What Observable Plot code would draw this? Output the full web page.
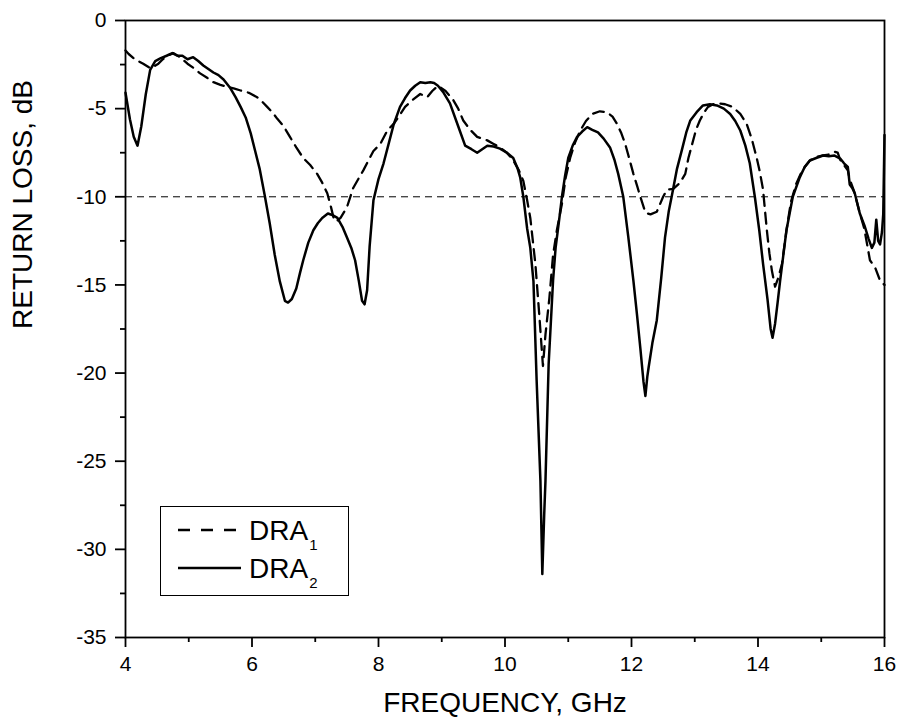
<!DOCTYPE html>
<html><head><meta charset="utf-8">
<script src="https://cdn.jsdelivr.net/npm/d3@7"></script>
<script src="https://cdn.jsdelivr.net/npm/@observablehq/plot@0.6"></script>
<style>
body{margin:0;background:#fff;font-family:"Liberation Sans",Arial,sans-serif;}
#wrap{position:relative;width:901px;height:727px;}
#legend{position:absolute;left:160px;top:506px;width:189px;height:90px;box-sizing:border-box;border:1.4px solid #000;background:#fff;}
</style>
</head><body>
<div id="wrap"><div id="legend"></div></div>
<script>
// ---- data ----
const seriesNames = ["DRA1", "DRA2"];
const xMajorTicks = [4, 6, 8, 10, 12, 14, 16];
const xMinorTicks = [5, 7, 9, 11, 13, 15];
const yMajorTicks = [-35, -30, -25, -20, -15, -10, -5, 0];
const yMinorTicks = [-32.5, -27.5, -22.5, -17.5, -12.5, -7.5, -2.5];
const refLevel = [-10];

const freq1 = [4.0,4.05,4.15,4.28,4.39,4.45,4.52,4.59,4.66,4.76,4.87,4.98,5.08,5.18,5.29,5.39,5.5,5.6,5.71,5.82,5.95,6.08,6.16,6.24,6.32,6.4,6.5,6.6,6.7,6.81,6.92,7.03,7.11,7.19,7.25,7.29,7.33,7.4,7.5,7.6,7.76,7.92,8.03,8.14,8.24,8.33,8.42,8.54,8.66,8.77,8.85,8.94,9.06,9.18,9.26,9.34,9.45,9.56,9.72,9.82,9.92,10.03,10.13,10.22,10.29,10.35,10.4,10.44,10.48,10.54,10.6,10.64,10.7,10.76,10.82,10.9,10.96,11.03,11.11,11.19,11.28,11.38,11.5,11.61,11.7,11.77,11.84,11.9,11.97,12.03,12.09,12.14,12.22,12.3,12.4,12.5,12.56,12.66,12.74,12.8,12.85,12.9,12.96,13.02,13.08,13.15,13.21,13.29,13.37,13.48,13.6,13.72,13.82,13.9,13.98,14.03,14.08,14.14,14.18,14.22,14.27,14.32,14.38,14.45,14.52,14.6,14.7,14.82,14.92,15.03,15.12,15.21,15.26,15.3,15.36,15.42,15.45,15.52,15.6,15.68,15.77,15.85,15.93,16.0];
const loss1 = [-1.7,-1.9,-2.2,-2.45,-2.7,-2.6,-2.45,-2.2,-2.0,-1.85,-2.1,-2.45,-2.7,-3.0,-3.25,-3.5,-3.65,-3.75,-3.85,-3.97,-4.1,-4.35,-4.6,-4.9,-5.2,-5.58,-6.0,-6.6,-7.2,-7.8,-8.2,-8.7,-9.2,-9.8,-10.6,-11.2,-11.4,-11.2,-10.6,-9.5,-8.5,-7.4,-7.0,-6.24,-5.86,-5.4,-4.9,-4.5,-4.17,-4.35,-4.0,-3.7,-4.0,-4.5,-5.0,-5.67,-6.2,-6.6,-6.8,-7.0,-7.2,-7.5,-7.94,-8.5,-9.1,-10.2,-11.2,-12.5,-13.8,-16.6,-19.6,-17.8,-15.8,-13.3,-11.9,-10.4,-8.9,-7.8,-6.9,-6.24,-5.7,-5.3,-5.15,-5.2,-5.45,-5.86,-6.4,-7.0,-7.9,-8.7,-9.4,-10.0,-10.9,-11.0,-10.85,-10.0,-9.6,-9.55,-9.3,-9.0,-8.7,-7.8,-7.0,-6.2,-5.67,-5.2,-4.9,-4.75,-4.7,-4.75,-4.9,-5.3,-5.86,-6.7,-7.8,-8.6,-9.6,-11.9,-13.2,-14.2,-15.1,-14.6,-13.8,-11.9,-10.3,-9.3,-8.5,-7.94,-7.75,-7.65,-7.6,-7.45,-7.5,-7.9,-8.2,-8.5,-9.0,-9.7,-10.8,-11.8,-13.6,-14.0,-14.75,-15.0];

const freq2 = [4.0,4.07,4.13,4.19,4.25,4.32,4.39,4.47,4.55,4.65,4.74,4.82,4.9,4.98,5.07,5.15,5.23,5.31,5.39,5.47,5.55,5.65,5.74,5.82,5.9,5.98,6.05,6.12,6.2,6.28,6.36,6.44,6.52,6.57,6.63,6.7,6.76,6.81,6.89,6.97,7.04,7.11,7.2,7.28,7.35,7.43,7.5,7.57,7.63,7.69,7.74,7.78,7.82,7.86,7.92,8.0,8.08,8.16,8.24,8.34,8.42,8.5,8.58,8.66,8.74,8.82,8.88,8.94,9.03,9.13,9.25,9.37,9.47,9.56,9.64,9.72,9.82,9.92,10.03,10.13,10.2,10.24,10.29,10.35,10.4,10.45,10.5,10.56,10.59,10.62,10.64,10.69,10.76,10.8,10.86,10.9,10.95,11.0,11.07,11.14,11.22,11.3,11.38,11.47,11.56,11.66,11.73,11.79,11.87,11.95,12.03,12.09,12.14,12.19,12.22,12.25,12.27,12.33,12.4,12.47,12.53,12.59,12.64,12.72,12.8,12.87,12.93,13.03,13.13,13.24,13.35,13.46,13.56,13.64,13.72,13.8,13.87,13.95,14.02,14.08,14.15,14.2,14.23,14.27,14.31,14.35,14.45,14.55,14.66,14.74,14.82,14.92,15.03,15.12,15.21,15.3,15.36,15.42,15.45,15.49,15.53,15.61,15.69,15.75,15.8,15.84,15.87,15.9,15.93,15.96,15.98,16.0];
const loss2 = [-4.1,-5.6,-6.6,-7.1,-6.0,-4.2,-2.8,-2.3,-2.15,-2.0,-1.85,-2.0,-2.0,-2.2,-2.08,-2.3,-2.55,-2.75,-2.95,-3.1,-3.35,-3.8,-4.35,-4.9,-5.5,-6.4,-7.4,-8.4,-9.9,-11.5,-13.3,-14.8,-15.9,-16.0,-15.8,-15.2,-14.3,-13.6,-12.6,-11.9,-11.5,-11.2,-10.95,-11.05,-11.2,-11.7,-12.3,-12.9,-13.6,-14.8,-15.9,-16.1,-15.3,-12.8,-10.2,-9.0,-8.1,-7.0,-5.9,-4.9,-4.4,-3.97,-3.7,-3.5,-3.55,-3.5,-3.55,-3.7,-4.1,-4.7,-5.9,-7.1,-7.3,-7.5,-7.3,-7.1,-7.15,-7.27,-7.5,-7.8,-8.4,-8.9,-10.0,-11.8,-12.9,-14.8,-20.4,-26.1,-31.4,-28.0,-26.1,-19.5,-14.75,-12.9,-11.2,-10.0,-8.8,-7.8,-7.1,-6.6,-6.3,-6.05,-6.2,-6.35,-6.7,-7.2,-7.9,-8.7,-10.0,-12.3,-14.75,-16.8,-18.6,-20.5,-21.3,-20.2,-19.7,-18.3,-17.0,-14.6,-12.3,-10.8,-9.9,-8.4,-7.3,-6.3,-5.67,-5.2,-4.82,-4.75,-4.82,-5.0,-5.3,-5.7,-6.24,-7.1,-8.1,-10.0,-11.9,-13.8,-15.8,-17.5,-18.0,-17.2,-16.0,-14.75,-11.9,-10.0,-8.9,-8.3,-7.94,-7.8,-7.66,-7.7,-7.66,-7.83,-8.1,-8.3,-9.3,-9.5,-9.8,-10.95,-11.7,-12.4,-12.9,-12.6,-11.3,-12.5,-12.7,-12.0,-11.0,-6.5];

const xTitle = "FREQUENCY, GHz";
const yTitle = "RETURN LOSS, dB";

// ---- build ----
const dra1 = freq1.map((f, i) => ({f, db: loss1[i]}));
const dra2 = freq2.map((f, i) => ({f, db: loss2[i]}));
const FONT = '"Liberation Sans", Arial, sans-serif';
const fmt = d => String(d);

const chart = Plot.plot({
  width: 901, height: 727,
  marginLeft: 125, marginRight: 17, marginTop: 20, marginBottom: 90,
  style: {fontFamily: FONT, fontSize: "21px", color: "#000", background: "#fff", overflow: "visible"},
  x: {domain: [4, 16]},
  y: {domain: [-35, 0]},
  marks: [
    Plot.ruleY(refLevel, {stroke: "#000", strokeWidth: 1, strokeDasharray: "7,5"}),
    Plot.line(dra1, {x: "f", y: "db", stroke: "#000", strokeWidth: 2.3, strokeDasharray: "11,7"}),
    Plot.line(dra2, {x: "f", y: "db", stroke: "#000", strokeWidth: 2.5}),
    Plot.frame({stroke: "#000", strokeWidth: 1.8}),
    Plot.axisX(xMajorTicks, {tickSize: 10, tickPadding: 9, tickFormat: fmt, strokeWidth: 1.8, label: null, fontSize: 21}),
    Plot.axisX(xMinorTicks, {tickSize: 5, tickFormat: () => "", strokeWidth: 1.8, label: null}),
    Plot.axisY(yMajorTicks, {tickSize: 10, tickPadding: 9, tickFormat: fmt, strokeWidth: 1.8, label: null, fontSize: 21}),
    Plot.axisY(yMinorTicks, {tickSize: 5, tickFormat: () => "", strokeWidth: 1.8, label: null}),
    Plot.text([xTitle], {text: d => d, frameAnchor: "bottom", dy: 74, fontSize: 28, fill: "#000"}),
    Plot.text([yTitle], {text: d => d, frameAnchor: "left", dx: -102, rotate: -90, fontSize: 28, fill: "#000"})
  ]
});
document.getElementById("wrap").prepend(chart);

// legend
const lg = d3.select("#legend").append("svg").attr("width", 187).attr("height", 88)
  .style("font-family", FONT);
const rows = [{name: seriesNames[0], dash: "12,11", y: 23}, {name: seriesNames[1], dash: null, y: 61}];
rows.forEach(r => {
  lg.append("line").attr("x1", 17).attr("x2", 80).attr("y1", r.y).attr("y2", r.y)
    .attr("stroke", "#000").attr("stroke-width", 2.4).attr("stroke-dasharray", r.dash);
  const t = lg.append("text").attr("x", 88).attr("y", r.y + 10).attr("font-size", 28).attr("fill", "#000");
  t.append("tspan").text(r.name.slice(0, 3));
  t.append("tspan").attr("dy", 10).attr("dx", 1).attr("font-size", 15).text(r.name.slice(3));
});
</script>
</body></html>
